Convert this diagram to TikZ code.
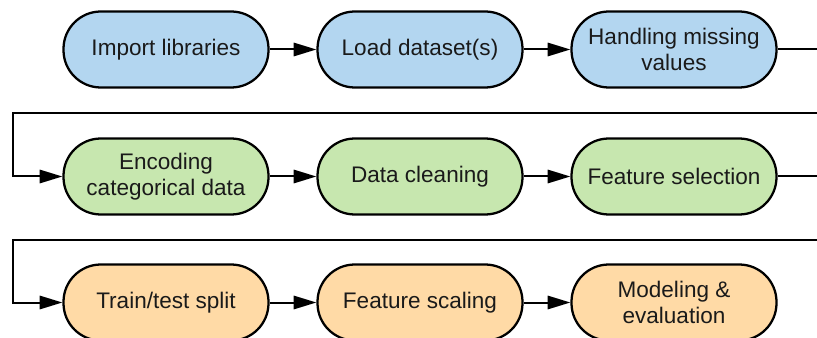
\documentclass[tikz,border=0pt]{standalone}
\usepackage{fontspec}
\setmainfont{Liberation Sans}
\usetikzlibrary{arrows.meta}
\definecolor{cblue}{RGB}{179,214,240}
\definecolor{cgreen}{RGB}{199,231,175}
\definecolor{corange}{RGB}{255,218,166}
\definecolor{ctext}{RGB}{26,26,26}
\begin{document}
\begin{tikzpicture}[x=0.75pt,y=-0.75pt,
  stage/.style={draw=black, line width=1.7pt, rounded corners=28pt,
    minimum width=153.75pt, minimum height=57pt, inner sep=2pt,
    align=center, text=ctext, font=\fontsize{16.9}{19.5}\selectfont},
  arr/.style={line width=1.5pt, -{Triangle[length=17pt,width=10pt]}}]
\useasboundingbox (0,0) rectangle (817,338);
\clip (0,0) rectangle (817,338);
\node[stage, fill=cblue] (n1) at (166,49.5) {Import libraries};
\node[stage, fill=cblue] (n2) at (420,49.5) {Load dataset(s)};
\node[stage, fill=cblue] (n3) at (674,49.5) {Handling missing\\values};
\node[stage, fill=cgreen] (n4) at (166,176.5) {Encoding\\categorical data};
\node[stage, fill=cgreen] (n5) at (420,176.5) {Data cleaning};
\node[stage, fill=cgreen] (n6) at (674,176.5) {Feature selection};
\node[stage, fill=corange] (n7) at (166,302.5) {Train/test split};
\node[stage, fill=corange] (n8) at (420,302.5) {Feature scaling};
\node[stage, fill=corange] (n9) at (674,302.5) {Modeling \&\\evaluation};
\coordinate (r1) at (822,113);
\coordinate (l1) at (12.5,113);
\coordinate (r2) at (822,240);
\coordinate (l2) at (12.5,240);
\draw[arr] (n1) -- (n2);
\draw[arr] (n2) -- (n3);
\draw[arr] (n3.east) -- (n3.east -| r1) -- (r1) -- (l1) -- (l1 |- n4.west) -- (n4.west);
\draw[arr] (n4) -- (n5);
\draw[arr] (n5) -- (n6);
\draw[arr] (n6.east) -- (n6.east -| r2) -- (r2) -- (l2) -- (l2 |- n7.west) -- (n7.west);
\draw[arr] (n7) -- (n8);
\draw[arr] (n8) -- (n9);
\end{tikzpicture}
\end{document}
